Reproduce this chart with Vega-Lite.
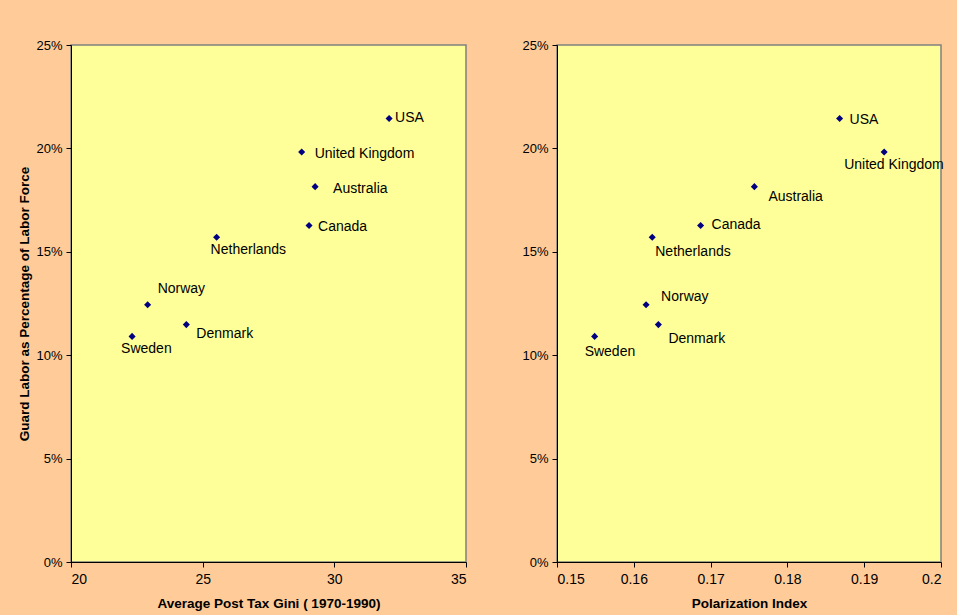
{
  "$schema": "https://vega.github.io/schema/vega-lite/v6.json",
  "background": "#FFCC99",
  "padding": {"left": 17, "top": 38, "right": 16, "bottom": 10},
  "spacing": 53,
  "datasets": {
    "guard": [
      {"country": "USA", "gini": 32.08, "polarization": 0.1868, "guard": 0.2145},
      {"country": "United Kingdom", "gini": 28.76, "polarization": 0.1926, "guard": 0.1983},
      {"country": "Australia", "gini": 29.27, "polarization": 0.1757, "guard": 0.1815},
      {"country": "Canada", "gini": 29.04, "polarization": 0.1687, "guard": 0.1627},
      {"country": "Netherlands", "gini": 25.53, "polarization": 0.1624, "guard": 0.157},
      {"country": "Norway", "gini": 22.91, "polarization": 0.1616, "guard": 0.1244},
      {"country": "Denmark", "gini": 24.38, "polarization": 0.1632, "guard": 0.1148},
      {"country": "Sweden", "gini": 22.32, "polarization": 0.1549, "guard": 0.1091}
    ]
  },
  "config": {
    "font": "Liberation Sans",
    "view": {"fill": "#FFFF99", "stroke": "#808080", "strokeWidth": 1.5},
    "axis": {
      "grid": false,
      "domainColor": "#000000",
      "tickColor": "#000000",
      "tickSize": 5,
      "labelColor": "#000000",
      "titleColor": "#000000",
      "labelFont": "Liberation Sans",
      "titleFont": "Liberation Sans",
      "labelFontSize": 14,
      "titleFontSize": 13.5,
      "titleFontWeight": "bold"
    },
    "text": {"font": "Liberation Sans", "fontSize": 14, "color": "#000000", "align": "left", "baseline": "middle"}
  },
  "hconcat": [
    {
      "width": 395,
      "height": 517,
      "data": {"name": "guard"},
      "encoding": {
        "x": {"field": "gini", "type": "quantitative", "scale": {"domain": [20, 35], "nice": false, "zero": false},
              "axis": {"title": "Average Post Tax Gini ( 1970-1990)", "values": [20, 25, 30, 35], "labelPadding": 5, "titlePadding": 10}},
        "y": {"field": "guard", "type": "quantitative", "scale": {"domain": [0, 0.25], "nice": false},
              "axis": {"title": "Guard Labor as Percentage of Labor Force", "values": [0, 0.05, 0.1, 0.15, 0.2, 0.25], "format": ".0%", "labelPadding": 4, "titlePadding": 4, "labelFontSize": 13}}
      },
      "layer": [
        {"mark": {"type": "point", "shape": "diamond", "filled": true, "color": "#000080", "size": 50, "opacity": 1}},
        {"transform": [{"filter": "datum.country === 'USA'"}], "mark": {"type": "text", "dx": 6, "dy": 0}, "encoding": {"text": {"field": "country"}}},
        {"transform": [{"filter": "datum.country === 'United Kingdom'"}], "mark": {"type": "text", "dx": 13, "dy": 2}, "encoding": {"text": {"field": "country"}}},
        {"transform": [{"filter": "datum.country === 'Australia'"}], "mark": {"type": "text", "dx": 18, "dy": 2}, "encoding": {"text": {"field": "country"}}},
        {"transform": [{"filter": "datum.country === 'Canada'"}], "mark": {"type": "text", "dx": 9, "dy": 1}, "encoding": {"text": {"field": "country"}}},
        {"transform": [{"filter": "datum.country === 'Netherlands'"}], "mark": {"type": "text", "dx": -6, "dy": 13}, "encoding": {"text": {"field": "country"}}},
        {"transform": [{"filter": "datum.country === 'Norway'"}], "mark": {"type": "text", "dx": 10, "dy": -16}, "encoding": {"text": {"field": "country"}}},
        {"transform": [{"filter": "datum.country === 'Denmark'"}], "mark": {"type": "text", "dx": 10, "dy": 9}, "encoding": {"text": {"field": "country"}}},
        {"transform": [{"filter": "datum.country === 'Sweden'"}], "mark": {"type": "text", "dx": -11, "dy": 13}, "encoding": {"text": {"field": "country"}}}
      ]
    },
    {
      "width": 384,
      "height": 517,
      "data": {"name": "guard"},
      "encoding": {
        "x": {"field": "polarization", "type": "quantitative", "scale": {"domain": [0.15, 0.2], "nice": false, "zero": false},
              "axis": {"title": "Polarization Index", "values": [0.15, 0.16, 0.17, 0.18, 0.19, 0.2], "format": ".2~f", "labelPadding": 5, "titlePadding": 10}},
        "y": {"field": "guard", "type": "quantitative", "scale": {"domain": [0, 0.25], "nice": false},
              "axis": {"title": null, "values": [0, 0.05, 0.1, 0.15, 0.2, 0.25], "format": ".0%", "labelPadding": 4, "labelFontSize": 13}}
      },
      "layer": [
        {"mark": {"type": "point", "shape": "diamond", "filled": true, "color": "#000080", "size": 50, "opacity": 1}},
        {"transform": [{"filter": "datum.country === 'USA'"}], "mark": {"type": "text", "dx": 10, "dy": 2}, "encoding": {"text": {"field": "country"}}},
        {"transform": [{"filter": "datum.country === 'United Kingdom'"}], "mark": {"type": "text", "dx": -40, "dy": 13}, "encoding": {"text": {"field": "country"}}},
        {"transform": [{"filter": "datum.country === 'Australia'"}], "mark": {"type": "text", "dx": 14, "dy": 10}, "encoding": {"text": {"field": "country"}}},
        {"transform": [{"filter": "datum.country === 'Canada'"}], "mark": {"type": "text", "dx": 11, "dy": -1}, "encoding": {"text": {"field": "country"}}},
        {"transform": [{"filter": "datum.country === 'Netherlands'"}], "mark": {"type": "text", "dx": 3, "dy": 15}, "encoding": {"text": {"field": "country"}}},
        {"transform": [{"filter": "datum.country === 'Norway'"}], "mark": {"type": "text", "dx": 15, "dy": -8}, "encoding": {"text": {"field": "country"}}},
        {"transform": [{"filter": "datum.country === 'Denmark'"}], "mark": {"type": "text", "dx": 10, "dy": 14}, "encoding": {"text": {"field": "country"}}},
        {"transform": [{"filter": "datum.country === 'Sweden'"}], "mark": {"type": "text", "dx": -10, "dy": 16}, "encoding": {"text": {"field": "country"}}}
      ]
    }
  ]
}
